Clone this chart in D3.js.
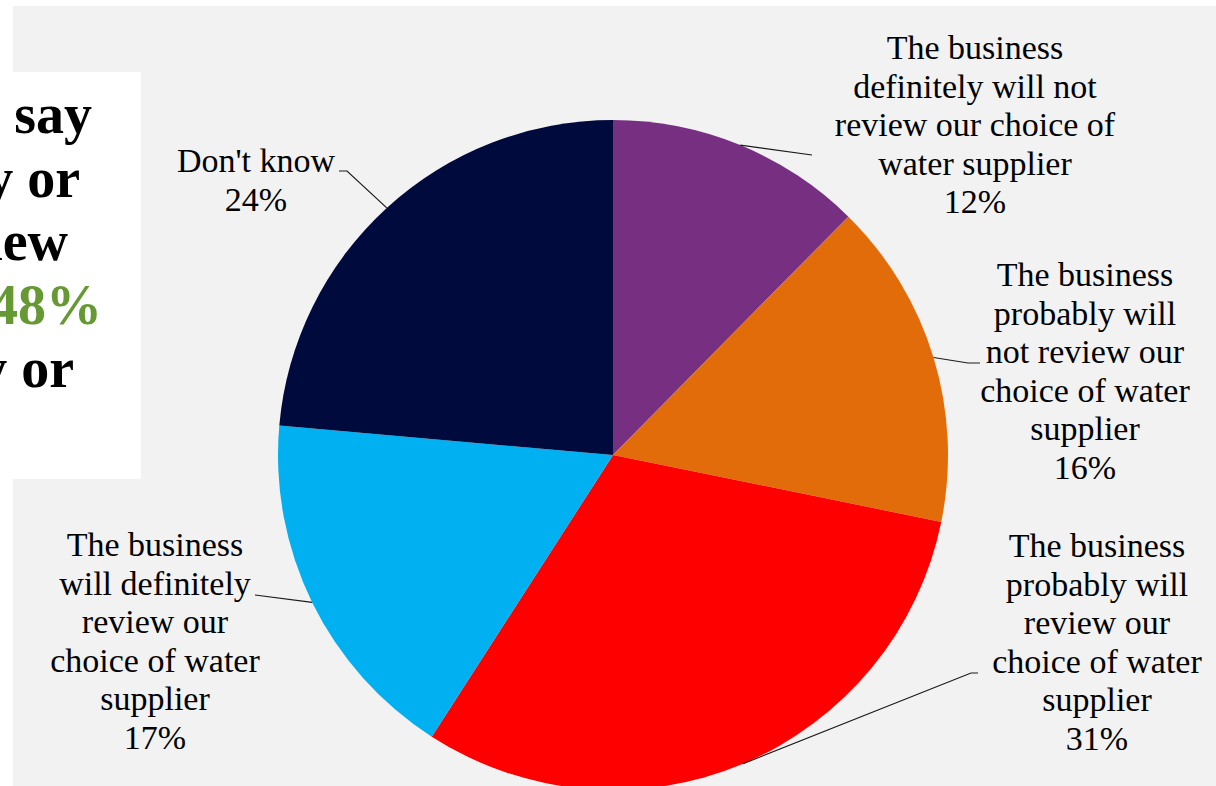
<!DOCTYPE html>
<html>
<head>
<meta charset="utf-8">
<script src="https://cdn.jsdelivr.net/npm/d3@7"></script>
<style>
  body { margin: 0; background: #fff; }
  svg { display: block; }
</style>
</head>
<body>
<div id="chart"></div>
<script>
const width = 1216;
const height = 786;

// slices clockwise from 12 o'clock
const categories = [
  ['The business', 'definitely will not', 'review our choice of', 'water supplier'],
  ['The business', 'probably will', 'not review our', 'choice of water', 'supplier'],
  ['The business', 'probably will', 'review our', 'choice of water', 'supplier'],
  ['The business', 'will definitely', 'review our', 'choice of water', 'supplier'],
  ["Don't know"]
];
const values = [12.4, 15.8, 30.9, 17.3, 23.6];
const colors = ['#772f82', '#e36c0a', '#ff0000', '#00b0f0', '#000a3d'];

// left callout box (text runs off the page)
const calloutLines = ['businesses say', 'definitely or', 'will review', 'but 48%', 'definitely or'];
const calloutColors = ['#000', '#000', '#000', '#669933', '#000'];

// label layout: text centre x, first baseline y, leader end points
const labelLayout = [
  { x: 975, y: 59, leader: [[812, 155]] },
  { x: 1085, y: 286, leader: [[968, 363], [980, 363]] },
  { x: 1097, y: 557, leader: [[971, 673], [978, 673]] },
  { x: 155, y: 556, leader: [[255, 595]] },
  { x: 256, y: 172, leader: [[347, 171], [339, 171]] }
];

const cx = 613, cy = 455, radius = 335;
const lineH = 38.5;

const svg = d3.select('#chart')
  .append('svg')
  .attr('width', width)
  .attr('height', height);

svg.append('rect')
  .attr('x', 13).attr('y', 6)
  .attr('width', width - 13).attr('height', height - 6)
  .attr('fill', '#f2f2f2');

// white text box on the left
svg.append('rect')
  .attr('x', 0).attr('y', 72)
  .attr('width', 141).attr('height', 407)
  .attr('fill', '#fff');

const calloutEnds = [92, 80, 68, 102, 74];
svg.append('g')
  .selectAll('text')
  .data(calloutLines)
  .enter()
  .append('text')
  .attr('x', (d, i) => calloutEnds[i])
  .attr('y', (d, i) => 133 + i * 63.5)
  .attr('text-anchor', 'end')
  .style('font-family', '"Liberation Serif", serif')
  .style('font-weight', 'bold')
  .style('font-size', '56px')
  .attr('fill', (d, i) => calloutColors[i])
  .text(d => d);

const pie = d3.pie().sort(null).value(d => d);
const arcs = pie(values);

const arc = d3.arc().innerRadius(0).outerRadius(radius);
const edge = d3.arc().innerRadius(radius).outerRadius(radius);

const g = svg.append('g').attr('transform', `translate(${cx},${cy})`);

g.selectAll('path')
  .data(arcs)
  .enter()
  .append('path')
  .attr('d', arc)
  .attr('fill', (d, i) => colors[i]);

// leader lines
const line = d3.line();
svg.append('g')
  .selectAll('path')
  .data(arcs)
  .enter()
  .append('path')
  .attr('d', (d, i) => {
    const c = edge.centroid(d);
    return line([[cx + c[0], cy + c[1]], ...labelLayout[i].leader]);
  })
  .attr('fill', 'none')
  .attr('stroke', '#1a1a1a')
  .attr('stroke-width', 1.2);

// labels
const fmt = d3.format('.0f');
const labels = svg.append('g')
  .selectAll('text')
  .data(arcs)
  .enter()
  .append('text')
  .attr('text-anchor', 'middle')
  .style('font-family', '"Liberation Serif", serif')
  .style('font-size', '34px')
  .attr('fill', '#000');

labels.each(function (d, i) {
  const t = d3.select(this);
  const lines = categories[i].concat([fmt(d.data) + '%']);
  lines.forEach((s, j) => {
    t.append('tspan')
      .attr('x', labelLayout[i].x)
      .attr('y', labelLayout[i].y + j * lineH)
      .text(s);
  });
});
</script>
</body>
</html>
